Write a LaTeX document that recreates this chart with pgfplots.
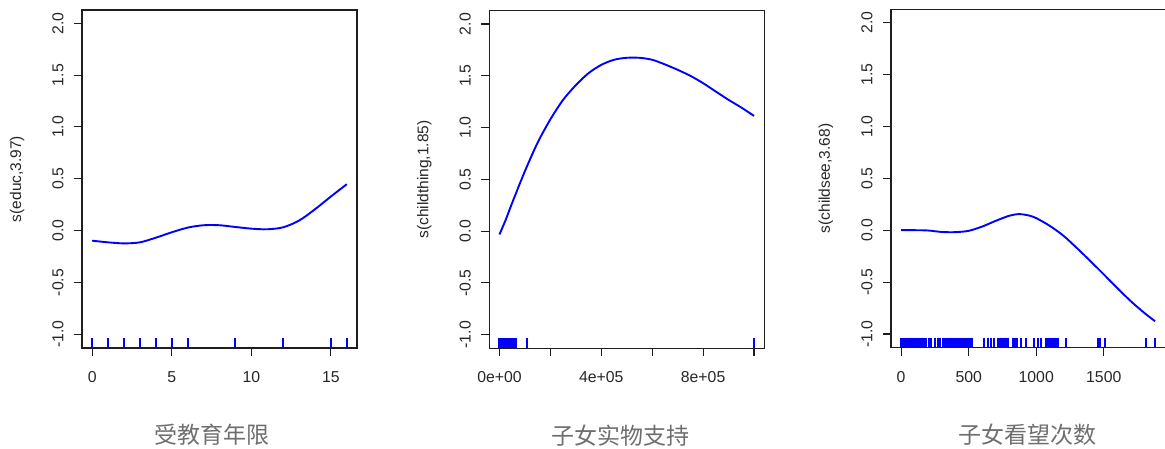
\documentclass[border=0pt]{standalone}
\usepackage{pgfplots}
\pgfplotsset{compat=1.18}
\usepackage{fontspec}
\setmainfont{Liberation Sans}
\newfontfamily\cjk{Noto Sans CJK SC}
\definecolor{rblue}{RGB}{0,0,255}
\definecolor{axgray}{RGB}{30,30,30}
\definecolor{labgray}{RGB}{110,110,110}

\pgfplotsset{
  gam/.style={
    scale only axis,
    anchor=south west,
    ymin=-1.132, ymax=2.128,
    ytick={-1,-0.5,0,0.5,1,1.5,2},
    yticklabels={-1.0,-0.5,0.0,0.5,1.0,1.5,2.0},
    axis line style={axgray, line width=1.1pt},
    every tick/.style={axgray, line width=1.1pt},
    tick align=outside,
    major tick length=8pt,
    xtick pos=bottom, ytick pos=left,
    ticklabel style={font=\fontsize{15.8}{18}\selectfont, text=black!85},
    yticklabel style={rotate=90, anchor=south, inner xsep=0pt, inner ysep=10.2pt},
    xticklabel style={anchor=north, inner xsep=0pt, inner ysep=15.2pt},
    ylabel style={at={(axis description cs:-0.236,0.5)}, anchor=center, font=\fontsize{15.5}{18}\selectfont, text=black!85, inner sep=0pt},
    xlabel style={anchor=center, font=\cjk\fontsize{23}{26}\selectfont, text=labgray, inner sep=0pt},
    scaled x ticks=false,
    clip=true,
  },
  curve/.style={rblue, line width=1.9pt, smooth, tension=0.5},
  rug/.style={only marks, mark=|, mark size=5pt, mark options={rblue, line width=2pt}},
}

\begin{document}
\begin{tikzpicture}[x=1pt,y=1pt]
\path[use as bounding box] (0,0) rectangle (1165,449);

% Panel 1
\begin{axis}[gam, at={(82pt,101pt)}, width=275pt, height=338pt,
  xmin=-0.64, xmax=16.64, xtick={0,5,10,15}, xticklabels={0,5,10,15},
  ylabel={s(educ,3.97)},
  xlabel={受教育年限}, xlabel style={at={(axis description cs:0.471,-0.257)}}]
\addplot[curve] coordinates {
(0,-0.097)(1,-0.113)(2,-0.123)(3,-0.113)(4,-0.068)(5,-0.016)(6,0.029)(7,0.052)
(8,0.052)(9,0.035)(10,0.019)(11,0.013)(12,0.032)(13,0.097)(14,0.206)(15,0.329)(16,0.448)};
\addplot[rug] coordinates {
(0,-1.084)(1,-1.084)(2,-1.084)(3,-1.084)(4,-1.084)(5,-1.084)(6,-1.084)(9,-1.084)(12,-1.084)(15,-1.084)(16,-1.084)};
\end{axis}

% Panel 2
\begin{axis}[gam, at={(489.3pt,100.6pt)}, width=274.9pt, height=337.6pt,
  xmin=-40000, xmax=1040000,
  xtick={0,200000,400000,600000,800000,1000000},
  xticklabels={0e+00,,4e+05,,8e+05,},
  ylabel={s(childthing,1.85)},
  xlabel={子女实物支持}, xlabel style={at={(axis description cs:0.476,-0.257)}}]
\addplot[curve] coordinates {
(0,-0.032)(25000,0.113)(50000,0.274)(100000,0.58)(150000,0.855)(200000,1.08)
(250000,1.268)(300000,1.41)(350000,1.526)(400000,1.606)(450000,1.655)(500000,1.674)
(550000,1.674)(600000,1.655)(650000,1.61)(700000,1.558)(750000,1.5)(800000,1.429)
(850000,1.348)(900000,1.268)(950000,1.194)(1000000,1.113)};
\addplot[rug] table[row sep=\\] {
x y\\
0 -1.084\\ 3000 -1.084\\ 6000 -1.084\\ 9000 -1.084\\ 12000 -1.084\\ 15000 -1.084\\
18000 -1.084\\ 21000 -1.084\\ 24000 -1.084\\ 27000 -1.084\\ 30000 -1.084\\ 33000 -1.084\\
36000 -1.084\\ 39000 -1.084\\ 42000 -1.084\\ 45000 -1.084\\ 48000 -1.084\\ 51000 -1.084\\
54000 -1.084\\ 56000 -1.084\\ 63000 -1.084\\ 109000 -1.084\\ 1000000 -1.084\\
};
\end{axis}

% Panel 3
\begin{axis}[gam, at={(891pt,101.3pt)}, width=276pt, height=338.4pt,
  xmin=-75, xmax=1968,
  xtick={0,500,1000,1500}, xticklabels={0,500,1000,1500},
  ylabel={s(childsee,3.68)},
  xlabel={子女看望次数}, xlabel style={at={(axis description cs:0.495,-0.257)}}]
\addplot[curve] coordinates {
(0,0)(100,0)(200,-0.003)(300,-0.017)(400,-0.019)(500,-0.006)(600,0.035)(700,0.09)
(800,0.139)(875,0.155)(950,0.14)(1000,0.116)(1100,0.042)(1200,-0.052)(1300,-0.171)
(1400,-0.297)(1500,-0.426)(1600,-0.558)(1700,-0.684)(1800,-0.797)(1880,-0.877)};
\addplot[rug] table[row sep=\\] {
x y\\
0 -1.084\\ 8 -1.084\\ 16 -1.084\\ 24 -1.084\\ 32 -1.084\\ 40 -1.084\\ 48 -1.084\\
56 -1.084\\ 64 -1.084\\ 72 -1.084\\ 80 -1.084\\ 88 -1.084\\ 96 -1.084\\ 104 -1.084\\
112 -1.084\\ 120 -1.084\\ 128 -1.084\\ 136 -1.084\\ 144 -1.084\\ 152 -1.084\\ 158 -1.084\\
168 -1.084\\ 185 -1.084\\ 205 -1.084\\ 222 -1.084\\
252 -1.084\\ 272 -1.084\\ 290 -1.084\\ 309 -1.084\\
328 -1.084\\ 336 -1.084\\ 344 -1.084\\ 352 -1.084\\ 360 -1.084\\ 368 -1.084\\ 376 -1.084\\
384 -1.084\\ 392 -1.084\\ 400 -1.084\\ 408 -1.084\\ 416 -1.084\\ 424 -1.084\\ 432 -1.084\\
440 -1.084\\ 448 -1.084\\
466 -1.084\\ 474 -1.084\\ 482 -1.084\\ 490 -1.084\\ 498 -1.084\\ 506 -1.084\\ 514 -1.084\\ 522 -1.084\\
617 -1.084\\ 642 -1.084\\ 667 -1.084\\ 684 -1.084\\
718 -1.084\\ 726 -1.084\\ 734 -1.084\\ 742 -1.084\\ 750 -1.084\\ 758 -1.084\\ 766 -1.084\\
774 -1.084\\ 782 -1.084\\ 790 -1.084\\
828 -1.084\\ 836 -1.084\\ 844 -1.084\\ 852 -1.084\\ 860 -1.084\\
889 -1.084\\ 926 -1.084\\ 983 -1.084\\ 1012 -1.084\\ 1037 -1.084\\
1070 -1.084\\ 1078 -1.084\\ 1086 -1.084\\ 1094 -1.084\\ 1102 -1.084\\ 1110 -1.084\\
1118 -1.084\\ 1126 -1.084\\ 1134 -1.084\\ 1142 -1.084\\ 1150 -1.084\\ 1158 -1.084\\
1217 -1.084\\ 1457 -1.084\\ 1474 -1.084\\ 1506 -1.084\\ 1815 -1.084\\ 1881 -1.084\\
};
\end{axis}
\end{tikzpicture}
\end{document}
